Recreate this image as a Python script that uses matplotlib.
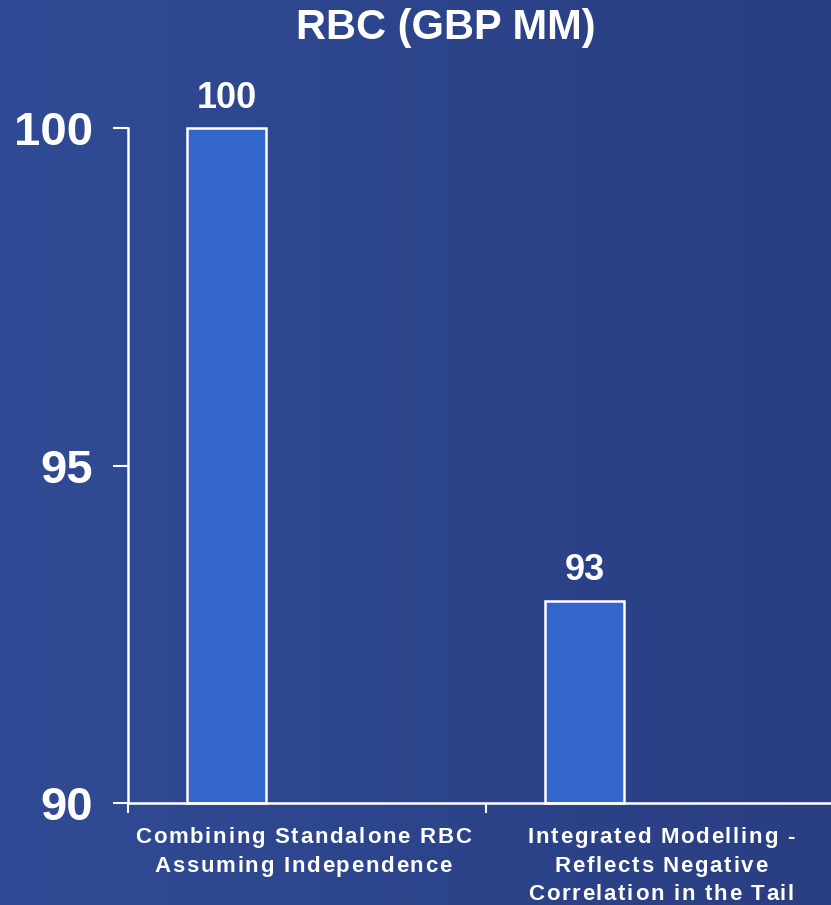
import numpy as np
import matplotlib
matplotlib.use("Agg")
import matplotlib.pyplot as plt
from matplotlib.colors import LinearSegmentedColormap
from matplotlib.font_manager import FontProperties, findfont
from matplotlib.ft2font import FT2Font

# dati del grafico
categories = ["Combining Standalone RBC\nAssuming Independence",
              "Integrated Modelling -\nReflects Negative\nCorrelation in the Tail"]
values = [100, 93]
bar_labels = ["100", "93"]
yticks = [90, 95, 100]

plt.rcParams['font.family'] = ['Liberation Sans', 'DejaVu Sans']

W, H, DPI = 831, 905, 100
fig = plt.figure(figsize=(W / DPI, H / DPI), dpi=DPI)

# sfondo con sfumatura orizzontale
bg = fig.add_axes([0, 0, 1, 1], zorder=-1)
cmap = LinearSegmentedColormap.from_list("bg", ["#304B95", "#2A3E82"])
grad = np.linspace(0, 1, 256).reshape(1, -1)
bg.imshow(grad, aspect="auto", cmap=cmap, extent=[0, 1, 0, 1])
bg.set_axis_off()

# assi: ogni categoria occupa 358 px, l'asse esce oltre il bordo destro
ax = fig.add_axes([128 / W, (H - 803) / H, 716 / W, 675 / H])
ax.patch.set_alpha(0)

x = np.arange(len(values))
offset = -0.225
ax.bar(x + offset, [v - 90 for v in values], width=0.22, bottom=90,
       color="#3366CC", edgecolor="white", linewidth=1.8, clip_on=False)

for xi, v, lab in zip(x, values, bar_labels):
    ax.text(xi + offset, v + 0.3, lab, ha="center", va="baseline",
            color="white", fontsize=26, fontweight="bold")

ax.set_xlim(-0.5, 1.5)
ax.set_ylim(90, 100)
ax.set_yticks(yticks)
ax.set_yticklabels([str(t) for t in yticks], fontsize=34, fontweight="bold",
                   color="white")
ax.tick_params(axis="y", direction="out", length=11, width=1.5, color="white",
               pad=14)

# tick sui confini delle categorie
ax.set_xticks([-0.5, 0.5, 1.5])
ax.set_xticklabels([])
ax.tick_params(axis="x", direction="out", length=7, width=1.5, color="white")

for s in ["top", "right"]:
    ax.spines[s].set_visible(False)
for s in ["left", "bottom"]:
    ax.spines[s].set_color("white")
    ax.spines[s].set_linewidth(1.8)


def spaced_line(cx, baseline, line, size, tracking):
    """Scrive una riga centrata in cx (px) con spaziatura extra fra le lettere."""
    ft = FT2Font(findfont(FontProperties(family="Liberation Sans", weight="bold")))
    ft.set_size(size, DPI)
    adv = []
    for c in line:
        g = ft.load_char(ord(c))
        adv.append(g.linearHoriAdvance / 65536)
    total = sum(adv) + tracking * (len(line) - 1)
    xpos = cx - total / 2
    for c, a in zip(line, adv):
        if c != " ":
            fig.text(xpos / W, 1 - baseline / H, c, ha="left", va="baseline",
                     color="white", fontsize=size, fontweight="bold")
        xpos += a + tracking


# etichette delle categorie, centrate sotto ciascuna categoria
label_x = ax.transData.transform([(xi, 90) for xi in x])[:, 0]
for cx, lab in zip(label_x, categories):
    for i, line in enumerate(lab.split("\n")):
        spaced_line(cx - 4, 843 + 28.5 * i, line, 16, 1.7)

fig.text(446 / W, 1 - 39.5 / H, "RBC (GBP MM)", ha="center", va="baseline",
         color="white", fontsize=30, fontweight="bold")

fig.savefig("out.png", dpi=DPI)
